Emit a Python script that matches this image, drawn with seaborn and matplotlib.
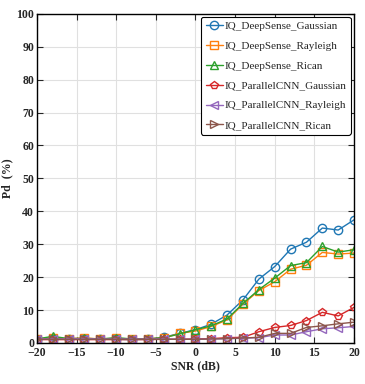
import matplotlib
matplotlib.use("Agg")
import matplotlib.pyplot as plt
import seaborn as sns
import numpy as np
import pandas as pd

# ── Data ─────────────────────────────────────────────────────────────────────
snr = list(range(-20, 21, 2))

ds_gaussian = [1.0, 1.2, 1.1, 1.2, 1.1, 1.1, 1.0, 1.1, 1.7, 2.9, 4.0,
               5.7, 8.5, 13.1, 19.4, 23.2, 28.5, 30.6, 34.9, 34.3, 37.4]
ds_rayleigh = [1.3, 1.5, 1.3, 1.5, 1.2, 1.4, 1.2, 1.3, 1.5, 2.9, 3.6,
               5.0, 7.0, 11.8, 15.9, 18.6, 22.4, 23.6, 27.5, 27.0, 27.3]
ds_rican = [1.2, 2.0, 1.3, 1.4, 1.2, 1.6, 1.2, 1.2, 1.6, 2.7, 4.0,
            5.2, 7.3, 12.0, 16.2, 19.7, 23.5, 24.4, 29.3, 27.6, 28.3]
pc_gaussian = [1.0, 1.0, 1.0, 1.0, 1.0, 1.0, 1.0, 1.0, 1.1, 1.1, 1.2,
               1.3, 1.6, 1.7, 3.4, 4.7, 5.3, 6.8, 9.3, 8.2, 10.8]
pc_rayleigh = [1.3, 1.2, 1.3, 1.3, 1.2, 1.2, 1.2, 1.2, 1.2, 1.1, 1.1,
               1.2, 1.3, 1.4, 1.6, 2.4, 2.4, 3.4, 4.3, 4.6, 5.0]
pc_rican = [1.1, 1.1, 1.1, 1.1, 1.1, 1.1, 1.1, 1.1, 1.1, 1.1, 1.1,
            1.2, 1.3, 1.5, 1.7, 2.9, 2.9, 4.7, 5.2, 5.8, 6.3]

series_names = ["IQ_DeepSense_Gaussian", "IQ_DeepSense_Rayleigh", "IQ_DeepSense_Rican",
                "IQ_ParallelCNN_Gaussian", "IQ_ParallelCNN_Rayleigh", "IQ_ParallelCNN_Rican"]
series_vals = [ds_gaussian, ds_rayleigh, ds_rican, pc_gaussian, pc_rayleigh, pc_rican]

x_ticks = [-20, -15, -10, -5, 0, 5, 10, 15, 20]
y_ticks = list(range(0, 101, 10))

# ── Style ────────────────────────────────────────────────────────────────────
colors = ["#1f77b4", "#ff7f0e", "#2ca02c", "#d62728", "#9467bd", "#8c564b"]
markers = ["o", "s", "^", "p", "<", ">"]

sns.set_style("ticks")
plt.rcParams["font.family"] = ["Liberation Serif", "DejaVu Serif"]

fig = plt.figure(figsize=(3.65, 3.84), dpi=100)
ax = fig.add_axes([0.101, 0.107, 0.869, 0.857])

for name, vals, c, m in zip(series_names, series_vals, colors, markers):
    df = pd.DataFrame({"SNR": snr, "Pd": vals})
    sns.lineplot(data=df, x="SNR", y="Pd", ax=ax, color=c, marker=m,
                 markersize=6, markerfacecolor="none", markeredgecolor=c,
                 markeredgewidth=1.0, linewidth=1.0, label=name)

ax.set_xlim(-20, 20)
ax.set_ylim(0, 100)
ax.set_xticks(x_ticks)
ax.set_yticks(y_ticks)
ax.set_xticklabels([f"{t}".replace("-", "\u2212") for t in x_ticks],
                   fontweight="bold", fontsize=8.5)
ax.set_yticklabels([str(t) for t in y_ticks], fontweight="bold", fontsize=8.5)
ax.grid(True, color="#e0e0e0", linewidth=0.8)
ax.tick_params(direction="in", top=True, right=True, length=4, width=0.8, pad=2)
ax.tick_params(axis="x", pad=3)
for sp in ax.spines.values():
    sp.set_visible(True)
    sp.set_linewidth(1.0)
    sp.set_color("black")

ax.set_xlabel("SNR (dB)", fontweight="bold", fontsize=8.5, labelpad=1)
ax.set_ylabel("Pd  (%)", fontweight="bold", fontsize=8.5, labelpad=2)

leg = ax.legend(loc="upper right", fontsize=8, frameon=True, fancybox=True,
                handlelength=1.6, handletextpad=0.1, borderpad=0.4,
                labelspacing=0.9, borderaxespad=0.3, edgecolor="black",
                framealpha=1.0)
leg.get_frame().set_linewidth(0.8)

fig.savefig("out.png", dpi=100)
